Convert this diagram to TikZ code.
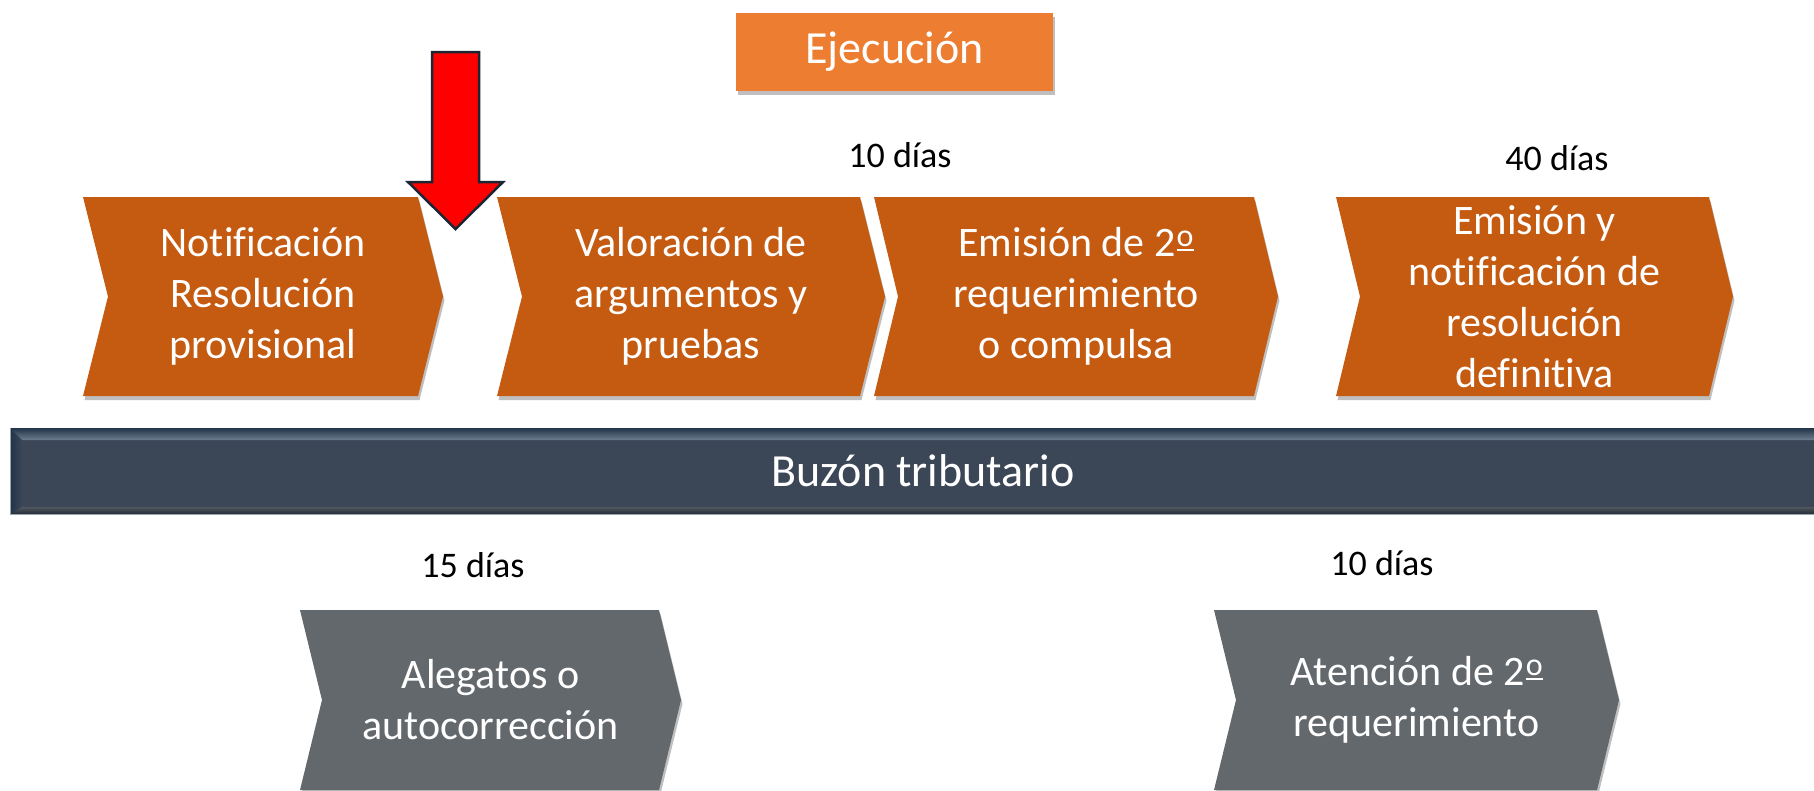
\documentclass[tikz,border=0pt]{standalone}
\usepackage{fontspec}
\setmainfont{Carlito}[Ligatures=CommonOff]
\usetikzlibrary{shadows}
\definecolor{chevorange}{HTML}{C55A11}
\definecolor{boxorange}{HTML}{ED7D31}
\definecolor{chevgray}{HTML}{63686C}
\definecolor{barfill}{HTML}{3B4657}
\definecolor{bartop}{HTML}{22344A}
\definecolor{barhi}{HTML}{6E7D90}
\definecolor{barbot}{HTML}{262D36}
\definecolor{arrowline}{HTML}{1C2633}
\newcommand{\ordo}{\kern1pt\raisebox{5.5pt}{\vbox{\hbox{\fontsize{32}{32}\selectfont o}\kern2.5pt\hrule height 2.2pt}}}
\tikzset{
  softshadow/.style={drop shadow={shadow xshift=1.5pt, shadow yshift=-4pt, opacity=0.25, fill=black}},
  chevtext/.style={text=white, align=center, font=\fontsize{42}{51}\selectfont, inner sep=0pt},
  daytext/.style={text=black, font=\fontsize{36}{44}\selectfont, inner sep=0pt},
  titletext/.style={text=white, font=\fontsize{46}{56}\selectfont, inner sep=0pt},
}
% #1 name, #2 left x, #3 right corner x, #4 top y, #5 bottom y, #6 depth, #7 colour, #8 text
\newcommand{\mychevron}[8]{%
  \fill[#7, softshadow] (#2,#4) -- (#3,#4) -- ({#3+#6},{(#4+#5)/2}) -- (#3,#5) -- (#2,#5) -- ({#2+#6},{(#4+#5)/2}) -- cycle;
  \node[chevtext] (#1) at ({(#2+#6+#3)/2},{(#4+#5)/2}) {#8};
}
\begin{document}
\begin{tikzpicture}[x=1pt,y=-1pt]
\useasboundingbox (0,0) rectangle (1814,790);
\fill[white] (0,0) rectangle (1814,790);

% Ejecucion box
\node[fill=boxorange, softshadow, minimum width=317pt, minimum height=78pt, inner sep=0pt, titletext] (ejec) at (894.5,52) {Ejecución};

% day labels (top)
\node[daytext] (d10a) at (900,155) {10 días};
\node[daytext] (d40) at (1557,158) {40 días};

% top chevrons
\mychevron{c1}{83}{418}{197}{396}{25}{chevorange}{Notificación\\Resolución\\provisional}
\mychevron{c2}{497}{860}{197}{396}{25}{chevorange}{Valoración de\\argumentos y\\pruebas}
\mychevron{c3}{874}{1254}{197}{396}{24}{chevorange}{Emisión de 2\ordo\\requerimiento\\o compulsa}
\mychevron{c4}{1336}{1709}{197}{396}{24}{chevorange}{Emisión y\\notificación de\\resolución\\definitiva}

% bar
\fill[barfill] (10,428) rectangle (1814,514);
\shade[top color=bartop, bottom color=barhi] (10,428) -- (1814,428) -- (1814,440) -- (22,440) -- cycle;
\shade[left color=bartop, right color=barfill] (10,428) -- (22,440) -- (22,507) -- (10,514) -- cycle;
\shade[top color=barbot!80, bottom color=barbot] (10,514) -- (22,507) -- (1814,507) -- (1814,514) -- cycle;
\draw[barhi!70, line width=0.8pt] (10.4,428) -- (10.4,514) -- (1814,514);
\node[titletext] (bar) at (923,471) {Buzón tributario};

% day labels (bottom)
\node[daytext] (d15) at (473,565) {15 días};
\node[daytext] (d10b) at (1382,563) {10 días};

% bottom chevrons
\mychevron{g1}{300}{659}{610}{790}{22}{chevgray}{Alegatos o\\autocorrección}
\mychevron{g2}{1214}{1597}{610}{790}{22}{chevgray}{Atención de 2\ordo\\requerimiento}

% red arrow
\draw[fill=red, draw=arrowline, line width=2.5pt, line join=miter]
  (432,52) -- (479,52) -- (479,182) -- (503,182) -- (455.5,229) -- (408,182) -- (432,182) -- cycle;
\end{tikzpicture}
\end{document}
